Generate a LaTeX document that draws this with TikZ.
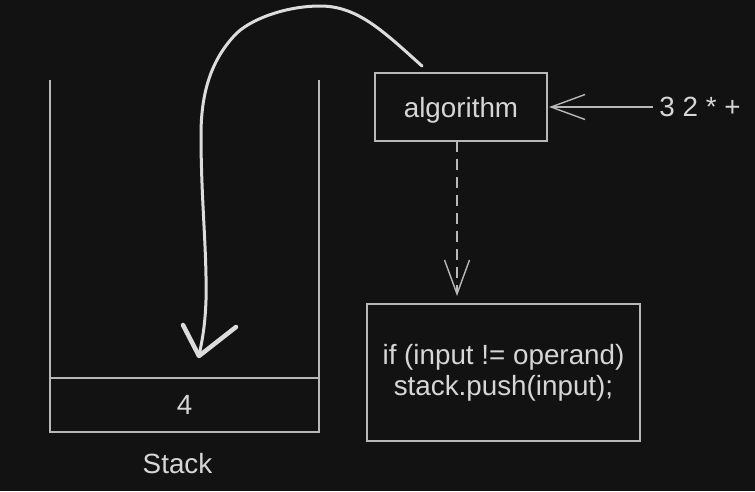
\documentclass[tikz,border=0pt]{standalone}
\usepackage{fontspec}
\setmainfont{Liberation Sans}
\usetikzlibrary{arrows,arrows.meta}
\definecolor{bg}{HTML}{121212}
\definecolor{ink}{HTML}{D6D6D6}
\definecolor{rim}{HTML}{B8B8B8}
\definecolor{chalk}{HTML}{DCDCDC}

\begin{document}
\begin{tikzpicture}[x=1pt, y=-1pt, >={Straight Barb[length=34pt,width=25pt]}, node distance=59pt]
			\tikzstyle{format} = [draw=rim, line width=1.4pt, outer sep=0pt, inner sep=0pt, text=ink, font=\fontsize{27.8}{31}\selectfont]
			\tikzstyle{label} = [text=ink, font=\fontsize{27.8}{31}\selectfont]
			\tikzstyle{wall} = [draw=rim, line width=1.1pt]
			\tikzstyle{chalkline} = [draw=chalk, line width=3pt, line cap=round, line join=round]
			\fill[bg] (0,0) rectangle (755,491);
			\useasboundingbox (0,0) rectangle (755,491);
			\begin{scope}
			\path[->, line width=1.4pt]
			node[format, minimum width=172pt, minimum height=68pt, text depth=0pt] (algo) at (461,107) {algorithm}
			node[label, right of=algo, node distance=239pt] (input) {3 2 * +}
			node[format, minimum width=273pt, minimum height=137pt, align=center] (code) at (503.5,372.5) {if (input != operand)\\stack.push(input);}
			node[format, line width=1.6pt, minimum width=269pt, minimum height=54pt, text depth=0pt] (top) at (184.5,405) {4}
			node[label, below of=top, xshift=-7pt] (stack) {Stack}
			(input) edge[rim, shorten <=2pt, shorten >=2pt] (algo)
			([xshift=-4pt]algo.south) edge[rim, dash pattern=on 11pt off 7pt, shorten >=8pt] ([xshift=-4pt]algo.south |- code.north)
			;
			\coordinate (lift) at (422,66);
			\coordinate (drop) at (199,356);
			\draw[wall] (50,80) -- (top.south west);
			\draw[wall] (319,80) -- (top.south east);
			% hand drawn arrow back into the stack
			\draw[chalkline] (lift) .. controls (382,30) and (357,6) .. (320,6)
				.. controls (285,6) and (248,20) .. (234,36)
				.. controls (210,62) and (201,95) .. (201,135)
				.. controls (201,200) and (207,250) .. (206,300)
				.. controls (205,330) and (201,345) .. (drop);
			\draw[chalkline, line width=4.5pt] (183,325) -- (drop) -- (236,327);
			\end{scope}
			\end{tikzpicture}
\end{document}
